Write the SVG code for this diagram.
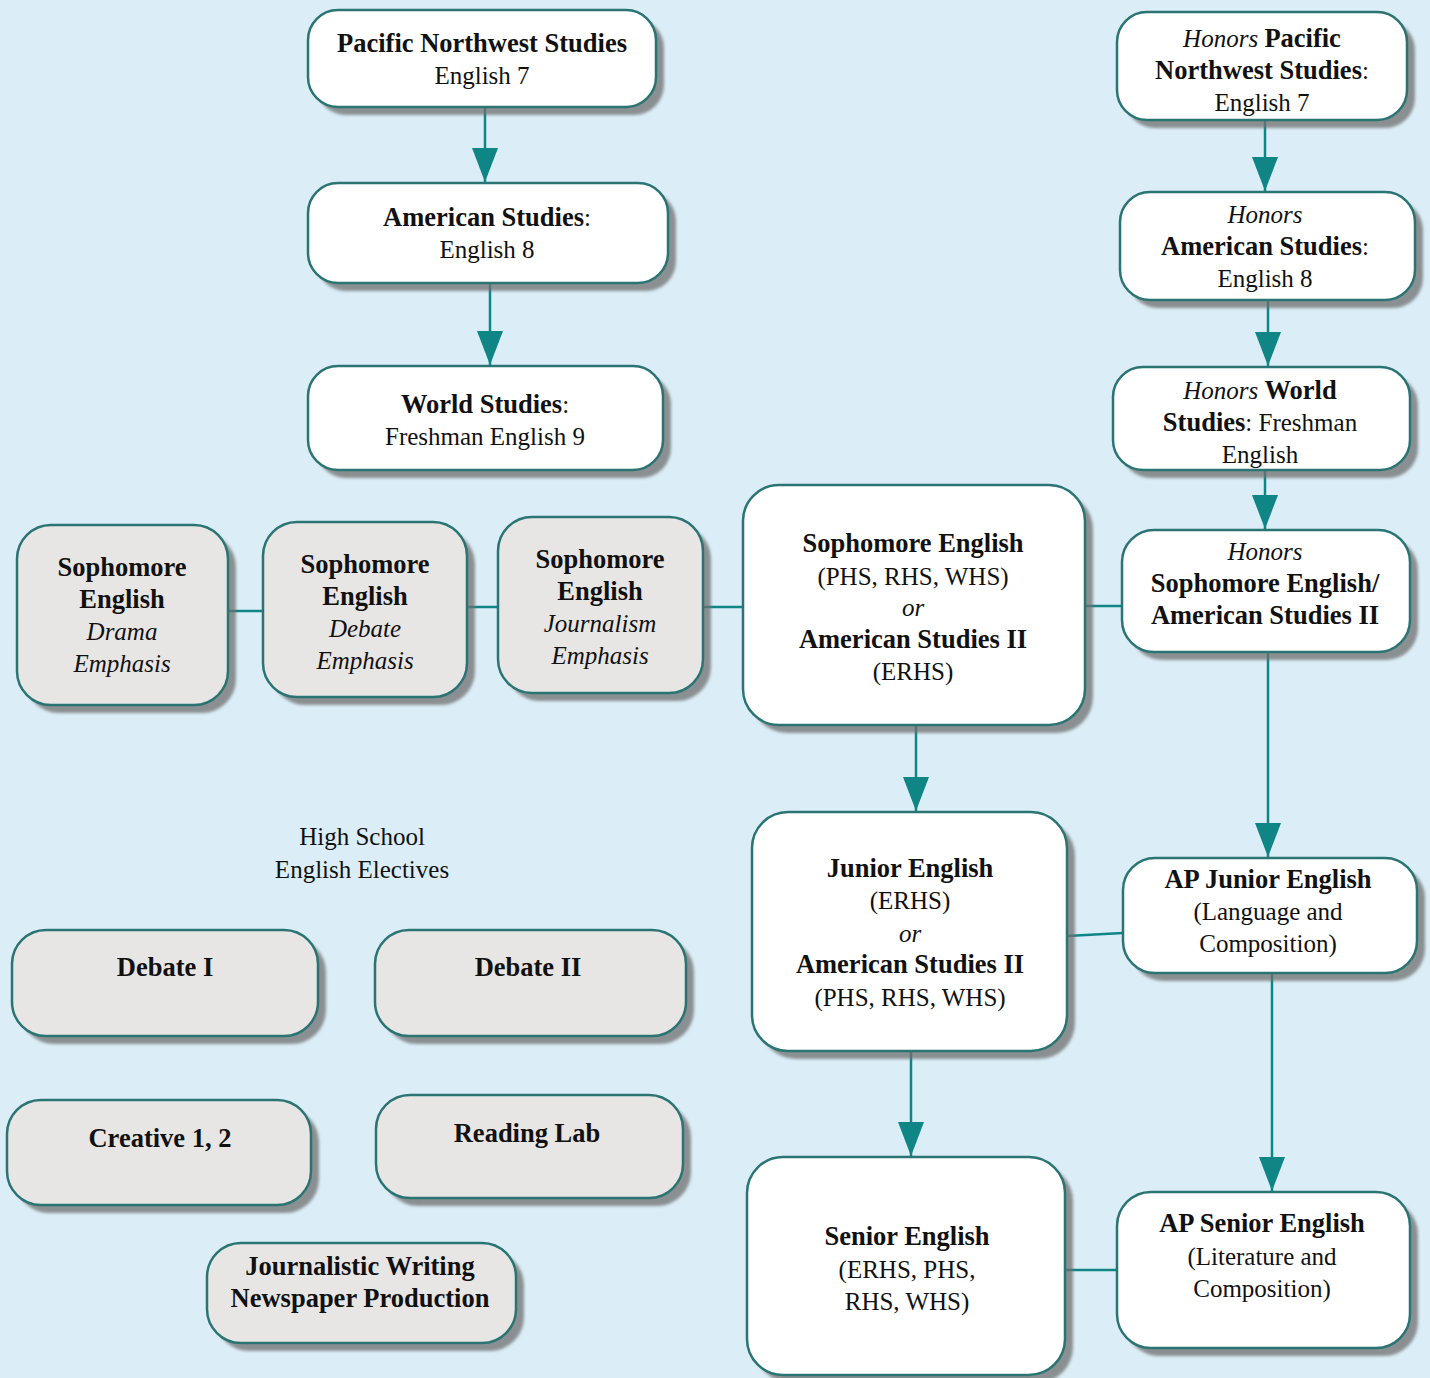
<svg xmlns="http://www.w3.org/2000/svg" width="1430" height="1378" viewBox="0 0 1430 1378" font-family="'Liberation Serif', 'Times New Roman', serif">
<defs>
<style>
.bg{fill:#dbeef7}
.sh{fill:#6f6f6f;opacity:0.75;filter:url(#blur)}
.w{fill:#ffffff;stroke:#2b7474;stroke-width:2.5}
.g{fill:#e8e6e4;stroke:#2b7474;stroke-width:2.5}
text{font-family:"Liberation Serif","Times New Roman",serif;font-size:25px;fill:#111;text-anchor:middle}
.b{font-weight:bold;font-size:26.5px}
.i{font-style:italic}
.c line{stroke:#0f8585;stroke-width:2.5}
</style>
<filter id="blur" x="-10%" y="-10%" width="120%" height="120%"><feGaussianBlur stdDeviation="1.5"/></filter>
<marker id="ah" viewBox="0 0 34 26" refX="34" refY="13" markerWidth="34" markerHeight="26" markerUnits="userSpaceOnUse" orient="auto">
<path d="M0,0 L34,13 L0,26 z" fill="#0f8585"/>
</marker>
</defs>
<rect class="bg" x="0" y="0" width="1430" height="1378"/>

<g class="c">
<line x1="485" y1="107" x2="485" y2="182" marker-end="url(#ah)"/>
<line x1="490" y1="283" x2="490" y2="365" marker-end="url(#ah)"/>
<line x1="1265" y1="120" x2="1265" y2="191" marker-end="url(#ah)"/>
<line x1="1268" y1="300" x2="1268" y2="366" marker-end="url(#ah)"/>
<line x1="1265" y1="470" x2="1265" y2="529" marker-end="url(#ah)"/>
<line x1="228" y1="611" x2="263" y2="611"/>
<line x1="467" y1="607" x2="498" y2="607"/>
<line x1="703" y1="607" x2="743" y2="607"/>
<line x1="1085" y1="606" x2="1122" y2="606"/>
<line x1="916" y1="725" x2="916" y2="811" marker-end="url(#ah)"/>
<line x1="1268" y1="652" x2="1268" y2="857" marker-end="url(#ah)"/>
<line x1="1067" y1="936" x2="1123" y2="933"/>
<line x1="911" y1="1051" x2="911" y2="1156" marker-end="url(#ah)"/>
<line x1="1272" y1="973" x2="1272" y2="1191" marker-end="url(#ah)"/>
<line x1="1065" y1="1270" x2="1117" y2="1270"/>
</g>

<g id="pnw">
<rect class="sh" x="316" y="18" width="348" height="97" rx="30"/>
<rect class="w" x="308" y="10" width="348" height="97" rx="30"/>
<text x="482" y="52" class="b">Pacific Northwest Studies</text>
<text x="482" y="84">English 7</text>
</g>
<g id="american">
<rect class="sh" x="316" y="191" width="360" height="100" rx="30"/>
<rect class="w" x="308" y="183" width="360" height="100" rx="30"/>
<text x="487" y="226"><tspan class="b">American Studies</tspan>:</text>
<text x="487" y="258">English 8</text>
</g>
<g id="world">
<rect class="sh" x="316" y="374" width="355" height="104" rx="30"/>
<rect class="w" x="308" y="366" width="355" height="104" rx="30"/>
<text x="485" y="413"><tspan class="b">World Studies</tspan>:</text>
<text x="485" y="445">Freshman English 9</text>
</g>
<g id="hon-pnw">
<rect class="sh" x="1125" y="20" width="290" height="108" rx="30"/>
<rect class="w" x="1117" y="12" width="290" height="108" rx="30"/>
<text x="1262" y="47"><tspan class="i">Honors</tspan> <tspan class="b">Pacific</tspan></text>
<text x="1262" y="79"><tspan class="b">Northwest Studies</tspan>:</text>
<text x="1262" y="111">English 7</text>
</g>
<g id="hon-american">
<rect class="sh" x="1128" y="200" width="295" height="108" rx="30"/>
<rect class="w" x="1120" y="192" width="295" height="108" rx="30"/>
<text x="1265" y="223" class="i">Honors</text>
<text x="1265" y="255"><tspan class="b">American Studies</tspan>:</text>
<text x="1265" y="287">English 8</text>
</g>
<g id="hon-world">
<rect class="sh" x="1121" y="375" width="297" height="103" rx="30"/>
<rect class="w" x="1113" y="367" width="297" height="103" rx="30"/>
<text x="1260" y="399"><tspan class="i">Honors</tspan> <tspan class="b">World</tspan></text>
<text x="1260" y="431"><tspan class="b">Studies</tspan>: Freshman</text>
<text x="1260" y="463">English</text>
</g>
<g id="soph-main">
<rect class="sh" x="751" y="493" width="342" height="240" rx="36"/>
<rect class="w" x="743" y="485" width="342" height="240" rx="36"/>
<text x="913" y="552" class="b">Sophomore English</text>
<text x="913" y="585">(PHS, RHS, WHS)</text>
<text x="913" y="616" class="i">or</text>
<text x="913" y="648" class="b">American Studies II</text>
<text x="913" y="680">(ERHS)</text>
</g>
<g id="hon-soph">
<rect class="sh" x="1130" y="538" width="288" height="122" rx="32"/>
<rect class="w" x="1122" y="530" width="288" height="122" rx="32"/>
<text x="1265" y="560" class="i">Honors</text>
<text x="1265" y="592" class="b">Sophomore English/</text>
<text x="1265" y="624" class="b">American Studies II</text>
</g>
<g id="soph-drama">
<rect class="sh" x="25" y="533" width="211" height="180" rx="34"/>
<rect class="g" x="17" y="525" width="211" height="180" rx="34"/>
<text x="122" y="576" class="b">Sophomore</text>
<text x="122" y="608" class="b">English</text>
<text x="122" y="640" class="i">Drama</text>
<text x="122" y="672" class="i">Emphasis</text>
</g>
<g id="soph-debate">
<rect class="sh" x="271" y="530" width="204" height="175" rx="34"/>
<rect class="g" x="263" y="522" width="204" height="175" rx="34"/>
<text x="365" y="573" class="b">Sophomore</text>
<text x="365" y="605" class="b">English</text>
<text x="365" y="637" class="i">Debate</text>
<text x="365" y="669" class="i">Emphasis</text>
</g>
<g id="soph-journalism">
<rect class="sh" x="506" y="525" width="205" height="176" rx="34"/>
<rect class="g" x="498" y="517" width="205" height="176" rx="34"/>
<text x="600" y="568" class="b">Sophomore</text>
<text x="600" y="600" class="b">English</text>
<text x="600" y="632" class="i">Journalism</text>
<text x="600" y="664" class="i">Emphasis</text>
</g>
<g id="junior">
<rect class="sh" x="760" y="820" width="315" height="239" rx="36"/>
<rect class="w" x="752" y="812" width="315" height="239" rx="36"/>
<text x="910" y="877" class="b">Junior English</text>
<text x="910" y="909">(ERHS)</text>
<text x="910" y="942" class="i">or</text>
<text x="910" y="973" class="b">American Studies II</text>
<text x="910" y="1006">(PHS, RHS, WHS)</text>
</g>
<g id="ap-junior">
<rect class="sh" x="1131" y="866" width="294" height="115" rx="32"/>
<rect class="w" x="1123" y="858" width="294" height="115" rx="32"/>
<text x="1268" y="888" class="b">AP Junior English</text>
<text x="1268" y="920">(Language and</text>
<text x="1268" y="952">Composition)</text>
</g>
<g id="senior">
<rect class="sh" x="755" y="1165" width="318" height="218" rx="36"/>
<rect class="w" x="747" y="1157" width="318" height="218" rx="36"/>
<text x="907" y="1245" class="b">Senior English</text>
<text x="907" y="1278">(ERHS, PHS,</text>
<text x="907" y="1310">RHS, WHS)</text>
</g>
<g id="ap-senior">
<rect class="sh" x="1125" y="1200" width="293" height="156" rx="34"/>
<rect class="w" x="1117" y="1192" width="293" height="156" rx="34"/>
<text x="1262" y="1232" class="b">AP Senior English</text>
<text x="1262" y="1265">(Literature and</text>
<text x="1262" y="1297">Composition)</text>
</g>
<g id="electives-label">
<text x="362" y="845">High School</text>
<text x="362" y="878">English Electives</text>
</g>
<g id="debate1">
<rect class="sh" x="20" y="938" width="306" height="106" rx="34"/>
<rect class="g" x="12" y="930" width="306" height="106" rx="34"/>
<text x="165" y="976" class="b">Debate I</text>
</g>
<g id="debate2">
<rect class="sh" x="383" y="938" width="311" height="106" rx="34"/>
<rect class="g" x="375" y="930" width="311" height="106" rx="34"/>
<text x="528" y="976" class="b">Debate II</text>
</g>
<g id="creative">
<rect class="sh" x="15" y="1108" width="304" height="105" rx="34"/>
<rect class="g" x="7" y="1100" width="304" height="105" rx="34"/>
<text x="160" y="1147" class="b">Creative 1, 2</text>
</g>
<g id="reading">
<rect class="sh" x="384" y="1103" width="307" height="103" rx="34"/>
<rect class="g" x="376" y="1095" width="307" height="103" rx="34"/>
<text x="527" y="1142" class="b">Reading Lab</text>
</g>
<g id="journalistic">
<rect class="sh" x="215" y="1251" width="309" height="100" rx="34"/>
<rect class="g" x="207" y="1243" width="309" height="100" rx="34"/>
<text x="360" y="1275" class="b">Journalistic Writing</text>
<text x="360" y="1307" class="b">Newspaper Production</text>
</g>
</svg>
